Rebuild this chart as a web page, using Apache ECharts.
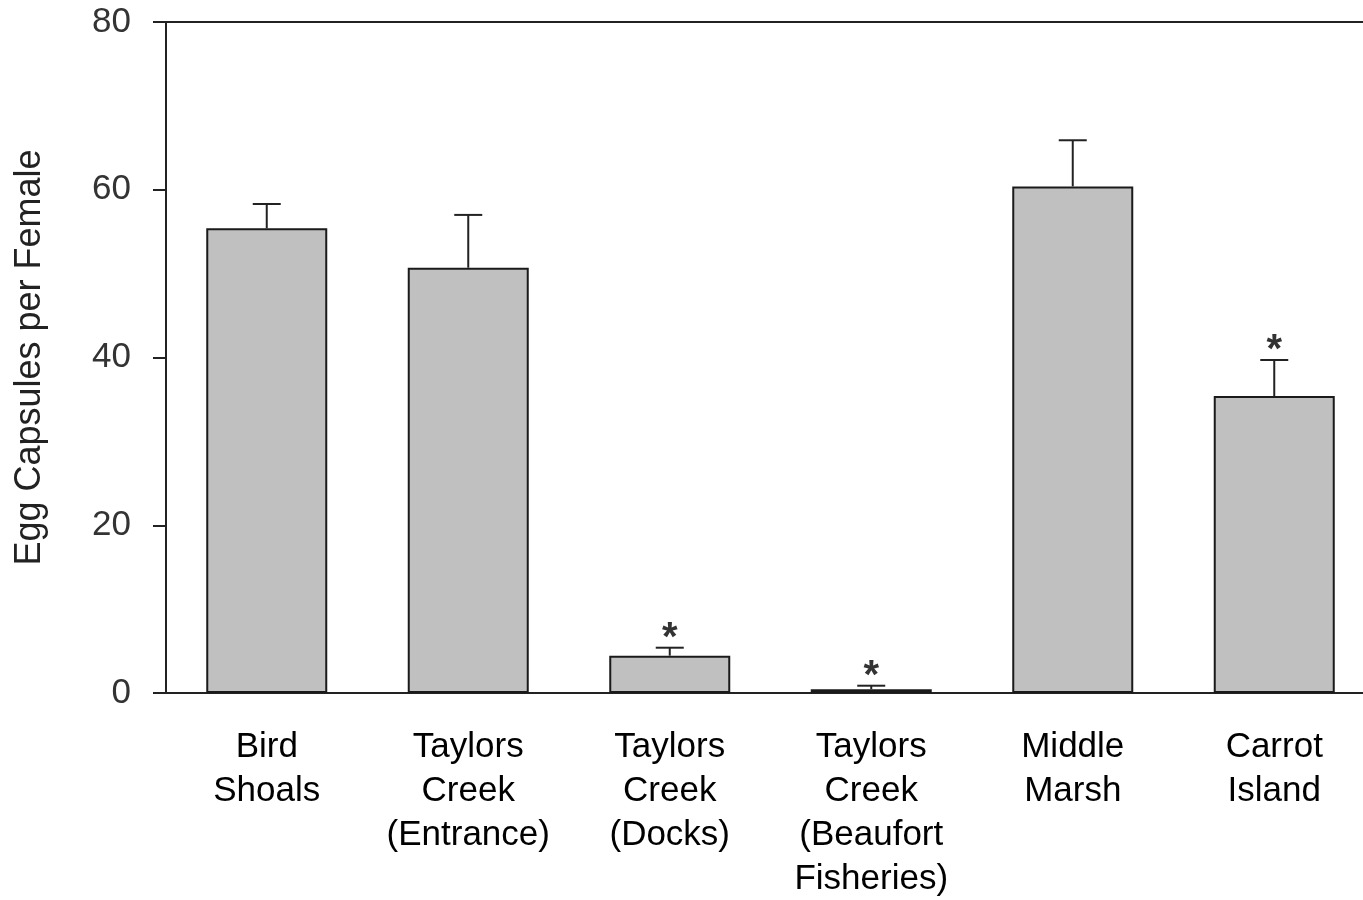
<!DOCTYPE html>
<html>
<head>
<meta charset="utf-8">
<script src="https://cdn.jsdelivr.net/npm/echarts@6/dist/echarts.min.js"></script>
<style>
html,body{margin:0;padding:0;background:#fff;}
#chart{width:1363px;height:900px;}
</style>
</head>
<body>
<div id="chart"></div>
<script>
const categories = ['Bird\nShoals', 'Taylors\nCreek\n(Entrance)', 'Taylors\nCreek\n(Docks)', 'Taylors\nCreek\n(Beaufort\nFisheries)', 'Middle\nMarsh', 'Carrot\nIsland'];
const means = [55.4, 50.7, 4.45, 0.45, 60.4, 35.4];
const upperErrors = [58.3, 57.0, 5.4, 0.87, 65.9, 39.7];
const significant = [false, false, true, true, false, true];
const yTicks = [0, 20, 40, 60, 80];
const yTitle = 'Egg Capsules per Female';

const chart = echarts.init(document.getElementById('chart'), null, {renderer: 'canvas'});
const errData = means.map((m, i) => [i, m, upperErrors[i], significant[i] ? 1 : 0]);

chart.setOption({
  animation: false,
  backgroundColor: '#fff',
  grid: {left: 166, top: 22, width: 1209, height: 671, containLabel: false, outerBoundsMode: 'none', show: true, borderColor: '#222', borderWidth: 2, backgroundColor: 'transparent'},
  xAxis: {
    type: 'category',
    data: categories,
    axisLine: {lineStyle: {color: '#222', width: 2}},
    axisTick: {alignWithLabel: true, length: 11, lineStyle: {color: '#222', width: 2}},
    axisLabel: {color: '#000', fontFamily: 'Liberation Sans, Arial', fontSize: 35, lineHeight: 44, margin: 32, interval: 0}
  },
  yAxis: {
    type: 'value',
    min: yTicks[0], max: yTicks[yTicks.length - 1], interval: 20,
    splitLine: {show: false},
    axisLine: {show: true, lineStyle: {color: '#222', width: 2}},
    axisTick: {show: true, length: 13, lineStyle: {color: '#222', width: 2}},
    axisLabel: {color: '#333', fontFamily: 'Liberation Sans, Arial', fontSize: 35, margin: 35},
    name: yTitle,
    nameLocation: 'middle',
    nameGap: 118,
    nameRotate: 90,
    nameTextStyle: {color: '#222', fontFamily: 'Liberation Sans, Arial', fontSize: 36}
  },
  series: [
    {
      type: 'bar',
      data: means,
      barWidth: 121,
      itemStyle: {color: '#c0c0c0', borderColor: '#1a1a1a', borderWidth: 2},
      z: 2
    },
    {
      type: 'custom',
      data: errData,
      z: 3,
      renderItem: function (params, api) {
        const i = api.value(0);
        const top = api.coord([i, api.value(2)]);
        const base = api.coord([i, api.value(1)]);
        const half = 14;
        const children = [
          {type: 'line', shape: {x1: top[0], y1: base[1], x2: top[0], y2: top[1]}, style: {stroke: '#222', lineWidth: 2}},
          {type: 'line', shape: {x1: top[0] - half, y1: top[1], x2: top[0] + half, y2: top[1]}, style: {stroke: '#222', lineWidth: 2}}
        ];
        if (api.value(3)) {
          children.push({type: 'text', style: {text: '*', x: top[0], y: top[1] - 9, textAlign: 'center', textVerticalAlign: 'middle', fontSize: 40, fontWeight: 'bold', fontFamily: 'Liberation Sans, Arial', fill: '#333'}});
        }
        return {type: 'group', children: children};
      }
    }
  ]
});
</script>
</body>
</html>
